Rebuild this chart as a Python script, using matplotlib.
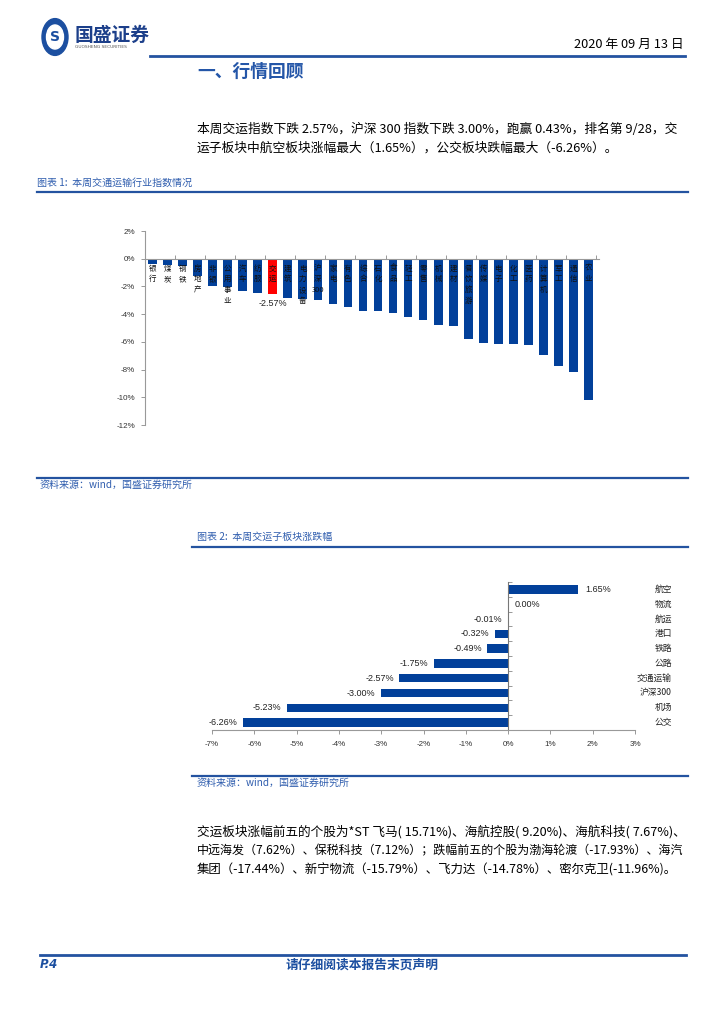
import numpy as np
import matplotlib
matplotlib.use('Agg')
import matplotlib.pyplot as plt
from matplotlib.lines import Line2D
from matplotlib.patches import Circle

plt.rcParams['font.family'] = ['Noto Sans CJK SC', 'DejaVu Sans']

# chart 1: weekly change of industry indices (%)
ind_names = ['银行', '煤炭', '钢铁', '房地产', '非银', '公用事业', '汽车', '纺服', '交运', '建筑',
             '电力设备', '沪深300', '家电', '有色', '综合', '石化', '食品', '轻工', '零售', '机械',
             '建材', '餐饮旅游', '传媒', '电子', '化工', '医药', '计算机', '军工', '通信', '农业']
ind_chg = [-0.36, -0.47, -0.50, -1.24, -1.97, -2.07, -2.33, -2.45, -2.57, -2.82,
           -2.92, -3.00, -3.30, -3.45, -3.75, -3.80, -3.90, -4.20, -4.43, -4.76,
           -4.83, -5.77, -6.06, -6.15, -6.16, -6.20, -6.96, -7.74, -8.14, -10.17]
ind_ticks = [2, 0, -2, -4, -6, -8, -10, -12]
highlight = '交运'

# chart 2: weekly change of transport sub-sectors (%)
sub_names = ['航空', '物流', '航运', '港口', '铁路', '公路', '交通运输', '沪深300', '机场', '公交']
sub_chg = [1.65, 0.00, -0.01, -0.32, -0.49, -1.75, -2.57, -3.00, -5.23, -6.26]
sub_ticks = [-7, -6, -5, -4, -3, -2, -1, 0, 1, 2, 3]

W, H = 724, 1024
BLUE = '#02409A'
RULE = '#2453A0'
TXT_BLUE = '#2F5DAE'

fig = plt.figure(figsize=(W / 100, H / 100), dpi=100)


def fx(x):
    return x / W


def fy(y):
    return 1 - y / H


def hline(x0, x1, y, lw=1.6, color=RULE):
    fig.add_artist(Line2D([fx(x0), fx(x1)], [fy(y), fy(y)], color=color, lw=lw))


def ftext(x, y, s, **kw):
    fig.text(fx(x), fy(y), s, **kw)


# ---- page header ----
fig.add_artist(Circle((fx(55), fy(37)), 13 / W, transform=fig.transFigure, color='#1C4FA0'))
fig.add_artist(Circle((fx(55), fy(37)), 8.5 / W, transform=fig.transFigure, color='white'))
ftext(55, 37, 'S', ha='center', va='center', fontsize=10, fontweight='bold', color='#1C4FA0',
      family='DejaVu Sans')
ftext(75, 35, '国盛证券', ha='left', va='center', fontsize=13.5, fontweight='bold', color='#1C3F8A')
ftext(75, 47, 'GUOSHENG SECURITIES', ha='left', va='center', fontsize=3.2, color='#555555',
      family='DejaVu Sans')
ftext(684, 44, '2020 年 09 月 13 日', ha='right', va='center', fontsize=9.2, color='black')
hline(150, 685, 56, lw=2.0)
ftext(197, 72, '一、行情回顾', ha='left', va='center', fontsize=12.8, fontweight='bold', color='#2456A8')

body = dict(ha='left', va='center', color='black')
ftext(197, 129, '本周交运指数下跌 2.57%，沪深 300 指数下跌 3.00%，跑赢 0.43%，排名第 9/28，交',
      fontsize=9.2, **body)
ftext(197, 148, '运子板块中航空板块涨幅最大（1.65%），公交板块跌幅最大（-6.26%）。', fontsize=9.2, **body)

cap = dict(ha='left', va='center', fontsize=7.2, color=TXT_BLUE, style='italic')
ftext(37, 183, '图表 1:  本周交通运输行业指数情况', **cap)
hline(37, 688, 192)
hline(37, 688, 478)
ftext(40, 485, '资料来源：wind，国盛证券研究所', **cap)

# ---- chart 1 ----
ax1 = fig.add_axes([fx(145), fy(425), fx(599) - fx(145), fy(231) - fy(425)])
x = np.arange(len(ind_names))
colors = ['#FF0000' if n == highlight else BLUE for n in ind_names]
ax1.bar(x, ind_chg, width=0.58, color=colors, zorder=2)
ax1.set_xlim(-0.5, len(ind_names) - 0.3)
ax1.set_ylim(-12, 2)
ax1.set_yticks(ind_ticks)
ax1.set_yticklabels(['%d%%' % t for t in ind_ticks], fontsize=5.8, color='#333333',
                    family='Liberation Sans')
ax1.tick_params(axis='y', length=3, width=0.6, color='#888888', pad=4)
for s in ['top', 'right']:
    ax1.spines[s].set_visible(False)
ax1.spines['left'].set_color('#999999')
ax1.spines['left'].set_linewidth(0.8)
ax1.spines['bottom'].set_position(('data', 0))
ax1.spines['bottom'].set_color('#999999')
ax1.spines['bottom'].set_linewidth(0.8)
ax1.set_xticks(np.arange(-0.5, len(ind_names), 2))
ax1.set_xticklabels([])
ax1.tick_params(axis='x', direction='in', length=3, width=0.6, color='#888888')
for i, name in enumerate(ind_names):
    if name == '沪深300':
        lab = '沪\n深\n300'
    else:
        lab = '\n'.join(name)
    ax1.text(i, -0.42, lab, ha='center', va='top', fontsize=5.4, linespacing=1.45,
             color='#111111', zorder=3)
hi = ind_names.index(highlight)
ax1.text(hi, ind_chg[hi] - 0.35, '%.2f%%' % ind_chg[hi], ha='center', va='top', fontsize=6.5,
         family='Liberation Sans', color='#222222')

# ---- chart 2 ----
ftext(197, 537, '图表 2:  本周交运子板块涨跌幅', **cap)
hline(192, 688, 547)

ax2 = fig.add_axes([fx(212), fy(730), fx(635) - fx(212), fy(582) - fy(730)])
y = np.arange(len(sub_names))
ax2.barh(y, sub_chg, height=0.58, color=BLUE, zorder=2)
ax2.set_xlim(-7, 3)
ax2.set_ylim(len(sub_names) - 0.5, -0.5)
ax2.set_xticks(sub_ticks)
ax2.set_xticklabels(['%d%%' % t for t in sub_ticks], fontsize=5.8, color='#333333',
                    family='Liberation Sans')
ax2.tick_params(axis='x', length=3, width=0.6, color='#888888', pad=5)
for s in ['top', 'right']:
    ax2.spines[s].set_visible(False)
ax2.spines['left'].set_position(('data', 0))
ax2.spines['left'].set_color('#777777')
ax2.spines['left'].set_linewidth(0.8)
ax2.spines['bottom'].set_color('#999999')
ax2.spines['bottom'].set_linewidth(0.8)
ax2.set_yticks(np.arange(-0.5, len(sub_names), 1))
ax2.set_yticklabels([])
ax2.tick_params(axis='y', direction='in', length=3, width=0.6, color='#888888')
for i, v in enumerate(sub_chg):
    if v >= 0:
        ax2.annotate('%.2f%%' % v, (v, i), xytext=(5, 0), textcoords='offset points',
                     ha='left', va='center', fontsize=6.5, family='Liberation Sans', color='#222222')
    else:
        ax2.annotate('%.2f%%' % v, (v, i), xytext=(-4, 0), textcoords='offset points',
                     ha='right', va='center', fontsize=6.5, family='Liberation Sans', color='#222222')
    ax2.text(1.0875, i, sub_names[i], transform=ax2.get_yaxis_transform(), ha='right', va='center',
             fontsize=6.3, color='#222222', family=['Noto Sans CJK SC', 'DejaVu Sans'])

hline(192, 688, 776)
ftext(197, 783, '资料来源：wind，国盛证券研究所', **cap)

ftext(197, 832, '交运板块涨幅前五的个股为*ST 飞马( 15.71%)、海航控股( 9.20%)、海航科技( 7.67%)、',
      fontsize=9.1, **body)
ftext(197, 851, '中远海发（7.62%）、保税科技（7.12%）；跌幅前五的个股为渤海轮渡（-17.93%）、海汽',
      fontsize=8.65, **body)
ftext(197, 870, '集团（-17.44%）、新宁物流（-15.79%）、飞力达（-14.78%）、密尔克卫(-11.96%)。',
      fontsize=8.95, **body)

# ---- footer ----
hline(40, 686, 955, lw=2.0)
ftext(40, 965, 'P.4', ha='left', va='center', fontsize=8.5, fontweight='bold', style='italic',
      color='#1C4FA0', family='DejaVu Sans')
ftext(362, 965, '请仔细阅读本报告末页声明', ha='center', va='center', fontsize=9.2, fontweight='bold',
      color='#1C4FA0')

fig.savefig('out.png', dpi=100)
